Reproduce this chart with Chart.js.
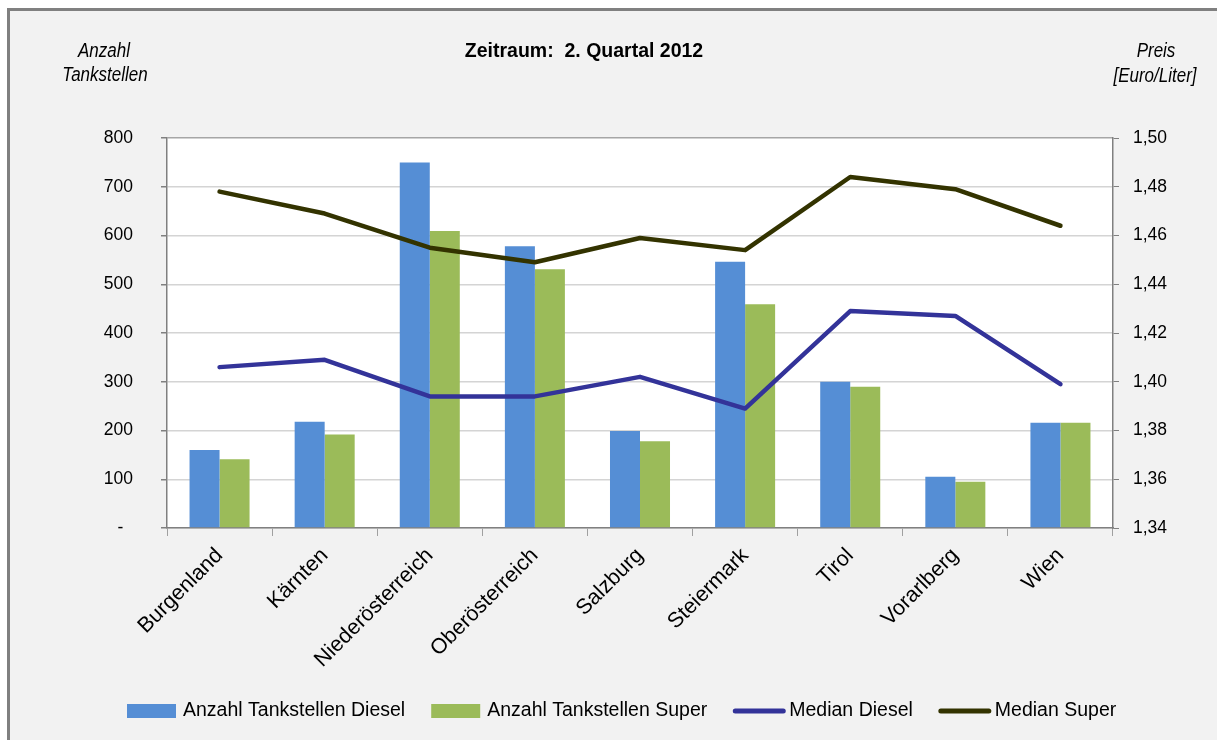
<!DOCTYPE html>
<html>
<head>
<meta charset="utf-8">
<script src="https://cdn.jsdelivr.net/npm/chart.js@4/dist/chart.umd.min.js"></script>
<style>
  html, body { margin: 0; padding: 0; width: 1217px; height: 740px; overflow: hidden; background: #ffffff; }
  #frame { position: absolute; left: 7px; top: 8px; width: 1300px; height: 800px; border: 3px solid #808080; background: #F2F2F2; }
  #wrap { position: absolute; left: 0; top: 0; width: 1217px; height: 740px; }
  .txt { position: absolute; color: #000; white-space: nowrap; transform: translate(-50%, -50%); }
  .ax { font-family: 'Liberation Sans', Arial, sans-serif; font-style: italic; font-size: 20px; transform: translate(-50%, -50%) scaleX(0.85); }
  .title { font-family: 'Liberation Sans', Arial, sans-serif; font-weight: bold; font-size: 19.5px; }
</style>
</head>
<body>
<div id="frame"></div>
<div id="wrap"><canvas id="c" width="1217" height="740"></canvas></div>
<div class="txt title" style="left:584px; top:50px;">Zeitraum:&nbsp; 2. Quartal 2012</div>
<div class="txt ax" style="left:104px; top:50px;">Anzahl</div>
<div class="txt ax" style="left:105px; top:74px;">Tankstellen</div>
<div class="txt ax" style="left:1156px; top:50px;">Preis</div>
<div class="txt ax" style="left:1155px; top:75px;">[Euro/Liter]</div>
<script>
const categories = ['Burgenland', 'Kärnten', 'Niederösterreich', 'Oberösterreich', 'Salzburg', 'Steiermark', 'Tirol', 'Vorarlberg', 'Wien'];
const anzahlDiesel = [160, 218, 750, 578, 199, 546, 300, 105, 216];
const anzahlSuper = [141, 192, 609, 531, 178, 459, 290, 95, 216];
const medianDiesel = [1.406, 1.409, 1.394, 1.394, 1.402, 1.389, 1.429, 1.427, 1.399];
const medianSuper = [1.478, 1.469, 1.455, 1.449, 1.459, 1.454, 1.484, 1.479, 1.464];
const leftTicks = [0, 100, 200, 300, 400, 500, 600, 700, 800];
const rightTicks = [1.34, 1.36, 1.38, 1.40, 1.42, 1.44, 1.46, 1.48, 1.50];
const seriesNames = ['Anzahl Tankstellen Diesel', 'Anzahl Tankstellen Super', 'Median Diesel', 'Median Super'];

const tickFont = { family: "'Liberation Sans', Arial, sans-serif", size: 17.5 };
const labelFont = { family: "'Liberation Sans', Arial, sans-serif", size: 21.5 };

const plotBg = {
  id: 'plotBg',
  beforeDraw(chart) {
    const { ctx, chartArea: a } = chart;
    ctx.save();
    ctx.fillStyle = '#ffffff';
    ctx.fillRect(a.left, a.top, a.right - a.left, a.bottom - a.top);
    ctx.restore();
  }
};

const customLegend = {
  id: 'customLegend',
  afterDraw(chart) {
    const ctx = chart.ctx;
    ctx.save();
    ctx.font = "19.5px 'Liberation Sans', Arial, sans-serif";
    ctx.textBaseline = 'middle';
    let x = 127;
    const yc = 711;
    chart.data.datasets.forEach(ds => {
      if (ds.type === 'line') {
        ctx.strokeStyle = ds.borderColor;
        ctx.lineWidth = 5;
        ctx.lineCap = 'round';
        ctx.beginPath();
        ctx.moveTo(x + 2, yc);
        ctx.lineTo(x + 50, yc);
        ctx.stroke();
      } else {
        ctx.fillStyle = ds.backgroundColor;
        ctx.fillRect(x, yc - 7, 49, 14);
      }
      ctx.fillStyle = '#000';
      ctx.textAlign = 'left';
      const tx = x + 56;
      ctx.fillText(ds.label, tx, yc);
      x = tx + ctx.measureText(ds.label).width + 26;
    });
    ctx.restore();
  }
};

new Chart(document.getElementById('c'), {
  data: {
    labels: categories,
    datasets: [
      { type: 'bar', label: seriesNames[0], data: anzahlDiesel, backgroundColor: '#558ED5', yAxisID: 'y', order: 1 },
      { type: 'bar', label: seriesNames[1], data: anzahlSuper, backgroundColor: '#9BBB59', yAxisID: 'y', order: 1 },
      { type: 'line', label: seriesNames[2], data: medianDiesel, borderColor: '#333399', backgroundColor: '#333399', borderWidth: 4.5, pointRadius: 0, tension: 0, yAxisID: 'y2', order: 0, borderCapStyle: 'round', borderJoinStyle: 'round' },
      { type: 'line', label: seriesNames[3], data: medianSuper, borderColor: '#333300', backgroundColor: '#333300', borderWidth: 4.5, pointRadius: 0, tension: 0, yAxisID: 'y2', order: 0, borderCapStyle: 'round', borderJoinStyle: 'round' }
    ]
  },
  options: {
    responsive: false,
    animation: false,
    devicePixelRatio: 1,
    layout: { padding: { top: 138, left: 0, right: 0, bottom: 0 } },
    datasets: { bar: { categoryPercentage: 0.571, barPercentage: 1.0 } },
    plugins: { legend: { display: false }, tooltip: { enabled: false }, title: { display: false } },
    scales: {
      x: {
        offset: true,
        grid: { display: true, drawOnChartArea: false, drawTicks: true, tickLength: 8, offset: true, color: '#A0A0A0', lineWidth: 1 },
        border: { display: true, color: '#808080', width: 1.5 },
        ticks: { autoSkip: false, maxRotation: 45, minRotation: 45, font: labelFont, color: '#000', padding: 7 },
        afterFit(scale) { scale.height = 212; }
      },
      y: {
        position: 'left',
        min: 0, max: 800,
        afterBuildTicks(scale) { scale.ticks = leftTicks.map(v => ({ value: v })); },
        grid: { color: (c) => (c.tick && c.tick.value === 800) ? '#A6A6A6' : '#D4D4D4', lineWidth: 1.5, tickLength: 6, tickColor: '#808080', drawTicks: true },
        border: { display: true, color: '#808080', width: 1.5 },
        ticks: { font: tickFont, color: '#000', padding: 28, callback: (v) => v === 0 ? '-  ' : String(v) },
        afterFit(scale) { scale.width = 167; }
      },
      y2: {
        position: 'right',
        min: 1.34, max: 1.50,
        afterBuildTicks(scale) { scale.ticks = rightTicks.map(v => ({ value: v })); },
        grid: { drawOnChartArea: false, tickLength: 6, tickColor: '#808080', drawTicks: true },
        border: { display: true, color: '#808080', width: 1.5 },
        ticks: { font: tickFont, color: '#000', padding: 14, callback: (v) => Number(v).toFixed(2).replace('.', ',') },
        afterFit(scale) { scale.width = 104; }
      }
    }
  },
  plugins: [plotBg, customLegend]
});
</script>
</body>
</html>
